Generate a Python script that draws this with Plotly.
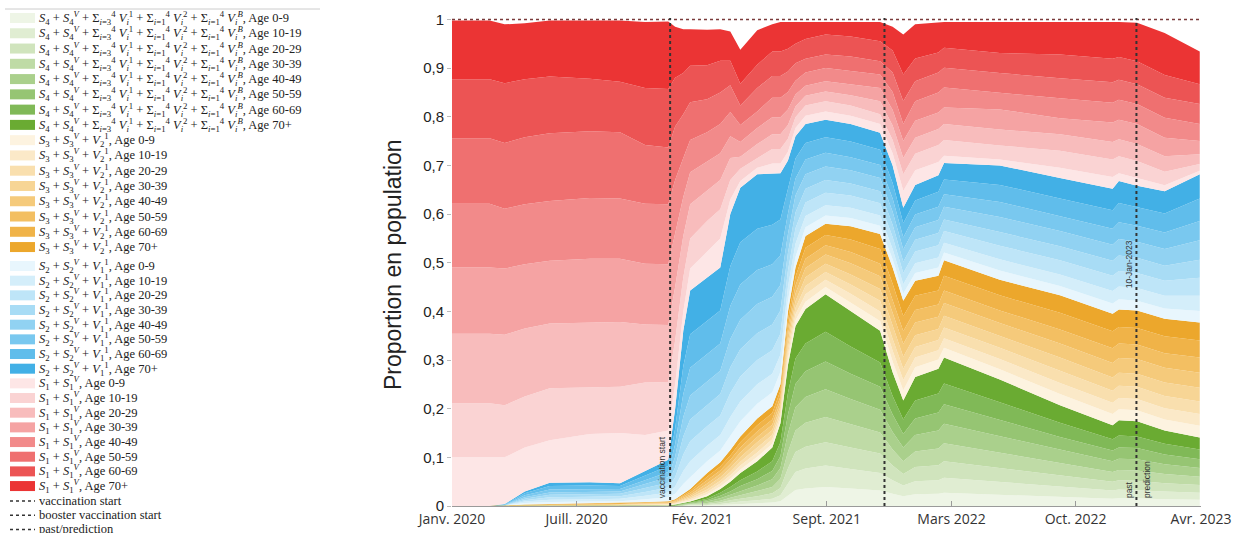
import plotly.graph_objects as go

# ---------------- data ----------------
DATES = ["2020-01-14", "2020-03-14", "2020-04-07", "2020-05-09", "2020-06-18", "2020-08-21",
         "2020-10-08", "2020-11-17", "2020-12-24", "2021-01-04", "2021-01-17", "2021-01-28",
         "2021-02-24", "2021-03-17", "2021-04-02", "2021-04-18", "2021-05-15", "2021-06-08",
         "2021-06-21", "2021-07-03", "2021-07-15", "2021-07-31", "2021-09-01", "2021-10-11",
         "2021-11-27", "2021-12-17", "2022-01-03", "2022-01-22", "2022-02-28", "2022-03-09",
         "2022-06-06", "2022-09-10", "2022-12-03", "2022-12-13", "2023-01-11", "2023-02-24",
         "2023-04-21"]

AGE_LABELS = ["0-9", "10-19", "20-29", "30-39", "40-49", "50-59", "60-69", "70+"]

# rows = dates, columns = age groups (0-9 ... 70+)
S4_ROWS = [
    [0, 0, 0, 0, 0, 0, 0, 0], [0, 0, 0, 0, 0, 0, 0, 0], [0, 0, 0, 0, 0, 0, 0, 0],
    [0, 0, 0, 0, 0, 0, 0, 0], [0, 0, 0, 0, 0, 0, 0, 0], [0, 0, 0, 0, 0, 0, 0, 0],
    [0, 0, 0, 0, 0, 0, 0, 0], [0, 0, 0, 0, 0, 0, 0, 0],
    [0, 0, 0, 0, 0, 0, 0, 0.001],
    [0, 0, 0, 0, 0, 0.001, 0.001, 0.001],
    [0, 0, 0.001, 0.001, 0.001, 0.001, 0.001, 0.001],
    [0.001, 0.001, 0.001, 0.001, 0.001, 0.001, 0.001, 0.002],
    [0.001, 0.001, 0.002, 0.002, 0.003, 0.003, 0.003, 0.005],
    [0.002, 0.002, 0.003, 0.004, 0.005, 0.005, 0.006, 0.008],
    [0.003, 0.004, 0.005, 0.005, 0.006, 0.007, 0.009, 0.011],
    [0.004, 0.005, 0.006, 0.007, 0.009, 0.010, 0.012, 0.015],
    [0.006, 0.006, 0.008, 0.010, 0.012, 0.013, 0.016, 0.021],
    [0.007, 0.008, 0.011, 0.013, 0.016, 0.017, 0.020, 0.028],
    [0.010, 0.012, 0.015, 0.019, 0.022, 0.024, 0.029, 0.039],
    [0.022, 0.025, 0.030, 0.034, 0.038, 0.039, 0.044, 0.058],
    [0.033, 0.037, 0.041, 0.044, 0.048, 0.048, 0.052, 0.067],
    [0.036, 0.041, 0.045, 0.049, 0.053, 0.053, 0.057, 0.071],
    [0.039, 0.044, 0.048, 0.052, 0.057, 0.057, 0.061, 0.077],
    [0.036, 0.040, 0.044, 0.048, 0.052, 0.052, 0.056, 0.072],
    [0.032, 0.036, 0.040, 0.043, 0.047, 0.047, 0.050, 0.065],
    [0.025, 0.028, 0.030, 0.033, 0.036, 0.036, 0.038, 0.049],
    [0.020, 0.022, 0.024, 0.026, 0.028, 0.028, 0.030, 0.039],
    [0.024, 0.027, 0.029, 0.032, 0.034, 0.034, 0.037, 0.048],
    [0.025, 0.028, 0.031, 0.034, 0.037, 0.037, 0.039, 0.051],
    [0.027, 0.031, 0.034, 0.037, 0.040, 0.040, 0.043, 0.053],
    [0.023, 0.026, 0.029, 0.031, 0.034, 0.034, 0.036, 0.047],
    [0.019, 0.021, 0.023, 0.025, 0.027, 0.027, 0.029, 0.036],
    [0.015, 0.017, 0.018, 0.020, 0.022, 0.022, 0.023, 0.029],
    [0.016, 0.018, 0.019, 0.021, 0.023, 0.023, 0.025, 0.031],
    [0.016, 0.017, 0.019, 0.021, 0.023, 0.023, 0.024, 0.031],
    [0.014, 0.016, 0.017, 0.019, 0.020, 0.020, 0.022, 0.027],
    [0.013, 0.014, 0.016, 0.017, 0.018, 0.018, 0.020, 0.025],
]

S3_ROWS = [
    [0, 0, 0, 0, 0, 0, 0, 0], [0, 0, 0, 0, 0, 0, 0, 0],
    [0, 0, 0, 0, 0, 0, 0, 0.001],
    [0, 0, 0, 0.001, 0, 0, 0.001, 0.001],
    [0, 0, 0.001, 0.001, 0, 0, 0.001, 0.001],
    [0, 0, 0.001, 0.001, 0.001, 0, 0.001, 0.001],
    [0, 0.001, 0.001, 0.001, 0.001, 0, 0.001, 0.001],
    [0.001, 0.001, 0.001, 0.001, 0.001, 0.001, 0.001, 0.001],
    [0.001, 0.001, 0.001, 0.001, 0.001, 0.001, 0.001, 0.002],
    [0.001, 0.001, 0.001, 0.001, 0.002, 0.002, 0.001, 0.002],
    [0.002, 0.002, 0.002, 0.002, 0.002, 0.003, 0.003, 0.003],
    [0.002, 0.003, 0.003, 0.003, 0.003, 0.004, 0.004, 0.004],
    [0.004, 0.005, 0.005, 0.006, 0.006, 0.007, 0.007, 0.008],
    [0.005, 0.006, 0.006, 0.007, 0.007, 0.007, 0.008, 0.009],
    [0.006, 0.007, 0.007, 0.008, 0.008, 0.009, 0.009, 0.011],
    [0.007, 0.008, 0.008, 0.009, 0.010, 0.010, 0.011, 0.012],
    [0.009, 0.009, 0.010, 0.011, 0.011, 0.011, 0.013, 0.014],
    [0.008, 0.009, 0.009, 0.010, 0.011, 0.011, 0.013, 0.014],
    [0.008, 0.008, 0.009, 0.010, 0.010, 0.010, 0.012, 0.013],
    [0.011, 0.011, 0.012, 0.013, 0.014, 0.014, 0.017, 0.018],
    [0.012, 0.012, 0.013, 0.014, 0.016, 0.016, 0.018, 0.019],
    [0.015, 0.015, 0.017, 0.018, 0.019, 0.019, 0.023, 0.024],
    [0.015, 0.015, 0.016, 0.017, 0.019, 0.019, 0.021, 0.023],
    [0.018, 0.018, 0.019, 0.021, 0.023, 0.023, 0.026, 0.027],
    [0.020, 0.020, 0.022, 0.024, 0.026, 0.026, 0.030, 0.031],
    [0.022, 0.022, 0.024, 0.026, 0.028, 0.028, 0.032, 0.033],
    [0.021, 0.021, 0.023, 0.025, 0.026, 0.026, 0.031, 0.032],
    [0.020, 0.020, 0.022, 0.024, 0.026, 0.026, 0.029, 0.031],
    [0.019, 0.019, 0.021, 0.023, 0.025, 0.025, 0.029, 0.030],
    [0.020, 0.020, 0.022, 0.024, 0.026, 0.026, 0.030, 0.032],
    [0.021, 0.021, 0.023, 0.025, 0.026, 0.026, 0.031, 0.032],
    [0.023, 0.023, 0.025, 0.027, 0.029, 0.029, 0.034, 0.036],
    [0.023, 0.023, 0.025, 0.027, 0.030, 0.030, 0.035, 0.036],
    [0.023, 0.023, 0.025, 0.027, 0.030, 0.030, 0.034, 0.036],
    [0.023, 0.023, 0.025, 0.027, 0.030, 0.030, 0.034, 0.036],
    [0.023, 0.023, 0.025, 0.028, 0.030, 0.030, 0.035, 0.036],
    [0.024, 0.024, 0.026, 0.028, 0.031, 0.031, 0.035, 0.037],
]

S2_ROWS = [
    [0, 0, 0, 0, 0, 0, 0, 0], [0, 0, 0, 0, 0, 0, 0, 0],
    [0, 0, 0, 0, 0.001, 0, 0.001, 0.001],
    [0.003, 0.003, 0.003, 0.003, 0.003, 0.004, 0.004, 0.004],
    [0.004, 0.005, 0.005, 0.005, 0.005, 0.006, 0.007, 0.007],
    [0.004, 0.005, 0.005, 0.005, 0.005, 0.006, 0.007, 0.007],
    [0.004, 0.005, 0.005, 0.005, 0.005, 0.005, 0.006, 0.006],
    [0.006, 0.007, 0.008, 0.008, 0.008, 0.008, 0.009, 0.010],
    [0.008, 0.010, 0.010, 0.010, 0.011, 0.011, 0.012, 0.013],
    [0.011, 0.015, 0.019, 0.020, 0.022, 0.026, 0.032, 0.041],
    [0.020, 0.027, 0.034, 0.037, 0.040, 0.047, 0.057, 0.073],
    [0.024, 0.033, 0.041, 0.045, 0.049, 0.057, 0.069, 0.090],
    [0.024, 0.032, 0.040, 0.044, 0.048, 0.056, 0.068, 0.089],
    [0.024, 0.032, 0.040, 0.044, 0.048, 0.056, 0.068, 0.088],
    [0.029, 0.039, 0.049, 0.053, 0.058, 0.068, 0.082, 0.107],
    [0.031, 0.041, 0.051, 0.056, 0.061, 0.072, 0.087, 0.112],
    [0.030, 0.040, 0.050, 0.055, 0.060, 0.070, 0.085, 0.112],
    [0.029, 0.038, 0.048, 0.053, 0.057, 0.067, 0.081, 0.106],
    [0.026, 0.035, 0.043, 0.048, 0.052, 0.061, 0.074, 0.095],
    [0.022, 0.028, 0.034, 0.036, 0.039, 0.042, 0.049, 0.060],
    [0.022, 0.027, 0.032, 0.032, 0.035, 0.035, 0.041, 0.046],
    [0.018, 0.023, 0.028, 0.028, 0.030, 0.030, 0.034, 0.039],
    [0.017, 0.021, 0.026, 0.026, 0.028, 0.028, 0.032, 0.036],
    [0.017, 0.021, 0.025, 0.025, 0.027, 0.027, 0.032, 0.036],
    [0.017, 0.021, 0.025, 0.025, 0.027, 0.027, 0.031, 0.035],
    [0.017, 0.021, 0.025, 0.025, 0.027, 0.027, 0.032, 0.036],
    [0.015, 0.019, 0.023, 0.023, 0.025, 0.025, 0.029, 0.032],
    [0.016, 0.020, 0.024, 0.024, 0.026, 0.026, 0.029, 0.032],
    [0.017, 0.021, 0.025, 0.025, 0.027, 0.027, 0.031, 0.034],
    [0.016, 0.020, 0.024, 0.024, 0.026, 0.026, 0.030, 0.034],
    [0.019, 0.023, 0.028, 0.028, 0.031, 0.031, 0.035, 0.040],
    [0.019, 0.024, 0.029, 0.029, 0.031, 0.031, 0.036, 0.042],
    [0.021, 0.026, 0.031, 0.031, 0.033, 0.033, 0.038, 0.044],
    [0.021, 0.026, 0.032, 0.032, 0.034, 0.034, 0.040, 0.045],
    [0.020, 0.026, 0.031, 0.031, 0.033, 0.033, 0.038, 0.044],
    [0.021, 0.026, 0.031, 0.031, 0.034, 0.034, 0.039, 0.046],
    [0.024, 0.031, 0.037, 0.037, 0.040, 0.040, 0.046, 0.050],
]

S1_ROWS = [
    [0.100, 0.111, 0.143, 0.136, 0.131, 0.135, 0.121, 0.121],
    [0.100, 0.111, 0.143, 0.136, 0.131, 0.135, 0.121, 0.121],
    [0.096, 0.107, 0.145, 0.136, 0.123, 0.135, 0.123, 0.121],
    [0.090, 0.105, 0.140, 0.132, 0.123, 0.138, 0.119, 0.115],
    [0.087, 0.107, 0.133, 0.129, 0.123, 0.139, 0.117, 0.115],
    [0.099, 0.096, 0.133, 0.131, 0.125, 0.137, 0.108, 0.120],
    [0.103, 0.095, 0.133, 0.130, 0.124, 0.136, 0.104, 0.126],
    [0.074, 0.108, 0.119, 0.125, 0.123, 0.121, 0.117, 0.136],
    [0.060, 0.100, 0.117, 0.125, 0.123, 0.117, 0.120, 0.139],
    [0.050, 0.090, 0.110, 0.110, 0.110, 0.110, 0.100, 0.105],
    [0.040, 0.070, 0.085, 0.080, 0.080, 0.090, 0.085, 0.090],
    [0.045, 0.062, 0.070, 0.066, 0.066, 0.078, 0.075, 0.075],
    [0.055, 0.062, 0.063, 0.058, 0.061, 0.068, 0.070, 0.073],
    [0.060, 0.060, 0.060, 0.055, 0.060, 0.065, 0.065, 0.065],
    [0.030, 0.040, 0.045, 0.045, 0.050, 0.055, 0.050, 0.060],
    [0.014, 0.025, 0.025, 0.030, 0.035, 0.040, 0.045, 0.070],
    [0.013, 0.020, 0.029, 0.033, 0.034, 0.048, 0.048, 0.071],
    [0.020, 0.030, 0.030, 0.035, 0.040, 0.045, 0.050, 0.056],
    [0.020, 0.030, 0.030, 0.035, 0.040, 0.045, 0.050, 0.061],
    [0.018, 0.027, 0.028, 0.032, 0.036, 0.042, 0.047, 0.055],
    [0.017, 0.022, 0.022, 0.025, 0.028, 0.036, 0.040, 0.045],
    [0.017, 0.021, 0.020, 0.021, 0.027, 0.028, 0.041, 0.035],
    [0.017, 0.021, 0.020, 0.021, 0.027, 0.028, 0.041, 0.026],
    [0.017, 0.021, 0.021, 0.023, 0.027, 0.030, 0.041, 0.030],
    [0.018, 0.020, 0.027, 0.027, 0.028, 0.027, 0.041, 0.040],
    [0.025, 0.027, 0.030, 0.032, 0.037, 0.040, 0.045, 0.049],
    [0.035, 0.034, 0.033, 0.035, 0.035, 0.047, 0.055, 0.082],
    [0.030, 0.034, 0.033, 0.035, 0.040, 0.041, 0.047, 0.070],
    [0.027, 0.035, 0.033, 0.034, 0.041, 0.041, 0.041, 0.063],
    [0.015, 0.032, 0.033, 0.034, 0.041, 0.041, 0.041, 0.053],
    [0.012, 0.029, 0.033, 0.041, 0.034, 0.041, 0.041, 0.064],
    [0.021, 0.035, 0.034, 0.033, 0.041, 0.041, 0.049, 0.067],
    [0.024, 0.036, 0.036, 0.040, 0.041, 0.042, 0.048, 0.076],
    [0.016, 0.035, 0.035, 0.040, 0.041, 0.041, 0.047, 0.072],
    [0.016, 0.035, 0.035, 0.041, 0.041, 0.041, 0.047, 0.079],
    [0.012, 0.028, 0.032, 0.038, 0.041, 0.041, 0.047, 0.086],
    [0.007, 0.014, 0.020, 0.027, 0.035, 0.041, 0.041, 0.067],
]

GROUP_LABELS = {
    "S4": "<i>S</i><sub>4</sub> + <i>S</i><sub>4</sub><sup><i>V</i></sup> + Σ<sub><i>i</i>=3</sub><sup>4</sup> <i>V</i><sub><i>i</i></sub><sup>1</sup> + Σ<sub><i>i</i>=1</sub><sup>4</sup> <i>V</i><sub><i>i</i></sub><sup>2</sup> + Σ<sub><i>i</i>=1</sub><sup>4</sup> <i>V</i><sub><i>i</i></sub><sup><i>B</i></sup>",
    "S3": "<i>S</i><sub>3</sub> + <i>S</i><sub>3</sub><sup><i>V</i></sup> + <i>V</i><sub>2</sub><sup>1</sup>",
    "S2": "<i>S</i><sub>2</sub> + <i>S</i><sub>2</sub><sup><i>V</i></sup> + <i>V</i><sub>1</sub><sup>1</sup>",
    "S1": "<i>S</i><sub>1</sub> + <i>S</i><sub>1</sub><sup><i>V</i></sup>",
}

X_TICK_DATES = ["2020-01-14", "2020-07-31", "2021-02-16", "2021-09-03", "2022-03-21", "2022-10-05", "2023-04-23"]
X_TICK_LABELS = ["Janv. 2020", "Juill. 2020", "Fév. 2021", "Sept. 2021", "Mars 2022", "Oct. 2022", "Avr. 2023"]
Y_TICK_VALUES = [0, 0.1, 0.2, 0.3, 0.4, 0.5, 0.6, 0.7, 0.8, 0.9, 1]
Y_TICK_LABELS = ["0", "0,1", "0,2", "0,3", "0,4", "0,5", "0,6", "0,7", "0,8", "0,9", "1"]

EVENT_DATES = ["2020-12-27", "2021-12-04", "2023-01-10"]
EVENT_LABELS = ["vaccination start", "booster vaccination start", "past/prediction"]

# ---------------- styles ----------------
COLORS = {
    "S4": ["#eef5e6", "#e0edd2", "#d0e4bd", "#bfdba6", "#aad08c", "#96c573", "#80b957", "#6aab32"],
    "S3": ["#fdf3e0", "#fbe9c8", "#f9dfae", "#f7d595", "#f5ca7b", "#f3bf62", "#f0b348", "#eca72c"],
    "S2": ["#e8f6fd", "#d4eefa", "#bee5f8", "#a8dcf5", "#91d2f2", "#79c8ef", "#60bdeb", "#42b0e6"],
    "S1": ["#fde6e6", "#fad3d3", "#f8bcbc", "#f5a3a3", "#f28a8a", "#ef7070", "#ec5454", "#eb3434"],
}
ROWS = {"S4": S4_ROWS, "S3": S3_ROWS, "S2": S2_ROWS, "S1": S1_ROWS}
STACK_ORDER = ["S4", "S3", "S2", "S1"]

W, H = 1235, 533
PLOT_L, PLOT_R, PLOT_T, PLOT_B = 452, 1201, 18, 506   # page pixels of the plotting area
ML, MT = PLOT_L, PLOT_T
MR, MB = W - PLOT_R, H - PLOT_B
PW, PH = PLOT_R - PLOT_L, PLOT_B - PLOT_T


def fx(px):
    return (px - PLOT_L) / PW


def fy(py):
    return (PLOT_B - py) / PH


fig = go.Figure()
for g in STACK_ORDER:
    rows = ROWS[g]
    for a, age in enumerate(AGE_LABELS):
        fig.add_trace(go.Scatter(
            x=DATES, y=[r[a] for r in rows], mode="lines", stackgroup="one",
            line=dict(width=0, color=COLORS[g][a]), fillcolor=COLORS[g][a],
            name=f"{g}, Age {age}", showlegend=False,
        ))

shapes = []
annotations = []

shapes.append(dict(type="line", xref="paper", yref="y", x0=0, x1=1, y0=1, y1=1,
                   line=dict(color="#7a3a3a", width=1.5, dash="dot"), layer="above"))
for d in EVENT_DATES:
    shapes.append(dict(type="line", xref="x", yref="paper", x0=d, x1=d, y0=0, y1=1,
                       line=dict(color="#333333", width=2, dash="dot"), layer="above"))

small = dict(family="Liberation Sans, Arial, sans-serif", size=8.5, color="#333333")
annotations.append(dict(x=EVENT_DATES[0], y=0.012, xref="x", yref="paper", text="vaccination start",
                        textangle=-90, showarrow=False, xanchor="right", yanchor="bottom", xshift=-1, font=small))
annotations.append(dict(x=EVENT_DATES[2], y=0.443, xref="x", yref="paper", text="10-Jan-2023",
                        textangle=-90, showarrow=False, xanchor="right", yanchor="bottom", xshift=-1, font=small))
annotations.append(dict(x=EVENT_DATES[2], y=0.012, xref="x", yref="paper", text="past",
                        textangle=-90, showarrow=False, xanchor="right", yanchor="bottom", xshift=-1, font=small))
annotations.append(dict(x=EVENT_DATES[2], y=0.012, xref="x", yref="paper", text="prediction",
                        textangle=-90, showarrow=False, xanchor="left", yanchor="bottom", xshift=3, font=small))

annotations.append(dict(x=fx(393), y=fy(265), xref="paper", yref="paper", text="Proportion en population",
                        textangle=-90, showarrow=False, xanchor="center", yanchor="middle",
                        font=dict(family="Liberation Sans, Arial, sans-serif", size=23, color="#222222")))

# ---------------- manual legend ----------------
legend_font = dict(family="Liberation Serif, DejaVu Serif, serif", size=12.5, color="#222222")
shapes.append(dict(type="line", xref="paper", yref="paper", x0=fx(5), x1=fx(320), y0=fy(9), y1=fy(9),
                   line=dict(color="#cccccc", width=1)))
legend_groups = ["S4", "S3", "S2", "S1"]
for gi, g in enumerate(legend_groups):
    for a, age in enumerate(AGE_LABELS):
        if gi < 2:
            py = 18 + (gi * 8 + a) * 15.27
        else:
            py = 266 + ((gi - 2) * 8 + a) * 14.67
        shapes.append(dict(type="rect", xref="paper", yref="paper",
                           x0=fx(10), x1=fx(35), y0=fy(py + 5), y1=fy(py - 5),
                           fillcolor=COLORS[g][a], line=dict(width=0)))
        annotations.append(dict(x=fx(37), y=fy(py), xref="paper", yref="paper",
                                text=f"{GROUP_LABELS[g]}, Age {age}", showarrow=False,
                                xanchor="left", yanchor="middle", font=legend_font))
for i, lab in enumerate(EVENT_LABELS):
    py = 501 + i * 14.2
    shapes.append(dict(type="line", xref="paper", yref="paper", x0=fx(10), x1=fx(35), y0=fy(py), y1=fy(py),
                       line=dict(color="#333333", width=1.5, dash="dot")))
    annotations.append(dict(x=fx(37), y=fy(py), xref="paper", yref="paper", text=lab, showarrow=False,
                            xanchor="left", yanchor="middle", font=legend_font))

fig.update_layout(
    width=W, height=H,
    margin=dict(l=ML, r=MR, t=MT, b=MB, pad=0),
    paper_bgcolor="white", plot_bgcolor="white",
    showlegend=False,
    shapes=shapes, annotations=annotations,
    xaxis=dict(type="date", range=["2020-01-14", "2023-04-23"], tickvals=X_TICK_DATES, ticktext=X_TICK_LABELS,
               showgrid=False, zeroline=False, showline=True, linecolor="#9a9a9a", linewidth=1,
               ticks="inside", ticklen=5, tickcolor="#9a9a9a", automargin=False,
               tickfont=dict(family="Open Sans, Lato, sans-serif", size=14, color="#333333")),
    yaxis=dict(range=[0, 1.003], tickvals=Y_TICK_VALUES, ticktext=Y_TICK_LABELS,
               showgrid=False, zeroline=False, showline=False,
               ticks="outside", ticklen=4, tickcolor="#bbbbbb", automargin=False,
               tickfont=dict(family="Liberation Sans, Arial, sans-serif", size=15, color="#222222")),
)

fig.write_html("out.html", config={"displayModeBar": False},
               post_script="document.body.style.margin='0';document.body.style.overflow='hidden';")
